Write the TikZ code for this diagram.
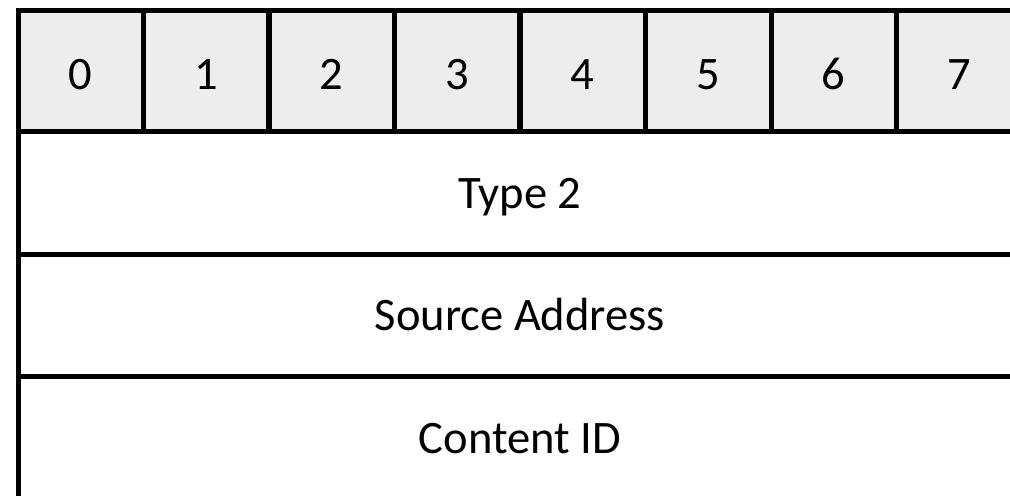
\documentclass[tikz,border=0pt]{standalone}
\usepackage{fontspec}
\setmainfont{Carlito}
\usetikzlibrary{positioning}

\tikzset{
	bitcell/.style={draw, line width=0.1cm, fill=gray!14, minimum width=2.51cm, minimum height=2.44cm, inner sep=0pt, outer sep=0pt, text height=21pt, text depth=0pt, font=\fontsize{26.5}{30}\selectfont},
	fieldrow/.style={draw, line width=0.1cm, fill=white, minimum width=20.08cm, minimum height=2.45cm, inner sep=0pt, outer sep=0pt, text height=17pt, text depth=0pt, font=\fontsize{26.5}{30}\selectfont}
}

\begin{document}
	\begin{tikzpicture}[x=0.02cm, y=-0.02cm]
		%\draw [help lines] (0,0) grid (1010,496);
		\useasboundingbox (0,0) rectangle (1010,496);
		\clip (0,0) rectangle (1010,496);
		
		%BIT HEADER
		\foreach \i in {0,...,7}
			\node[bitcell] (b\i) at (80.75+125.5*\i, 71) {\i};
		
		%FIELDS
		\node[fieldrow, below=0pt of b0.south west, anchor=north west] (type) {Type 2};
		\node[fieldrow, below=0pt of type] (src) {Source Address};
		\node[fieldrow, below=0pt of src] (cid) {Content ID};
		
	\end{tikzpicture}
\end{document}
